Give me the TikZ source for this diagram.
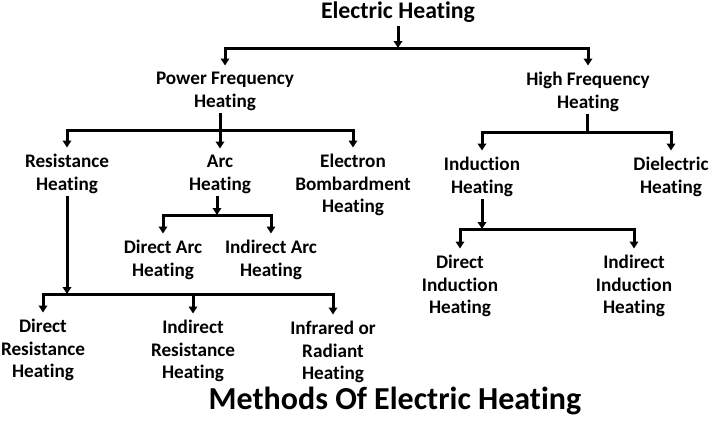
\documentclass[tikz,border=0pt]{standalone}
\usepackage{fontspec}
\setmainfont{Carlito}[Ligatures=NoCommon]
\usetikzlibrary{arrows.meta}
\begin{document}
\begin{tikzpicture}[x=1pt,y=-1pt,
  lbl/.style={anchor=north, align=center, inner sep=2.5pt, font=\fontsize{19.2}{22.5}\selectfont\bfseries},
  arr/.style={line width=3pt, -{Triangle[length=7pt,width=8.5pt]}, shorten >=4pt},
  ln/.style={line width=3pt}]
\useasboundingbox (0,0) rectangle (713,421);
\node[lbl, font=\fontsize{23.8}{27}\selectfont\bfseries] (eh) at (398,-0.5){Electric Heating};
\node[lbl] (pfh) at (225,69.5){Power Frequency\\Heating};
\node[lbl] (hfh) at (588,69.5){High Frequency\\Heating};
\node[lbl] (rh) at (67,151.5){Resistance\\Heating};
\node[lbl] (ah) at (220,152.5){Arc\\Heating};
\node[lbl] (ebh) at (353,151.5){Electron\\Bombardment\\Heating};
\node[lbl] (dah) at (163,237.5){Direct Arc\\Heating};
\node[lbl] (iah) at (271,237.5){Indirect Arc\\Heating};
\node[lbl] (ih) at (482,154.5){Induction\\Heating};
\node[lbl] (dh) at (671,154.5){Dielectric\\Heating};
\node[lbl] (dih) at (460,252.5){Direct\\Induction\\Heating};
\node[lbl] (iih) at (634,252.5){Indirect\\Induction\\Heating};
\node[lbl] (drh) at (43,316.5){Direct\\Resistance\\Heating};
\node[lbl] (irh) at (193,317.5){Indirect\\Resistance\\Heating};
\node[lbl] (rah) at (333,318.5){Infrared or\\Radiant\\Heating};
\node[lbl, font=\fontsize{32}{36}\selectfont\bfseries] (mt) at (395,384){Methods Of Electric Heating};
\coordinate (ehj) at (398,48);
\coordinate (pfhj) at (220,130);
\coordinate (hfhj) at (587,132);
\coordinate (ahj) at (217,215);
\coordinate (rhj) at (67,294);
\coordinate (ihj) at (482,229);
% top level
\draw[arr, shorten >=0pt](eh) -- (ehj);
\draw[arr](ehj) -| (pfh);
\draw[arr](ehj) -| (hfh);
% power frequency
\draw[ln](pfh.south -| pfhj) -- (pfhj);
\draw[arr](pfhj) -| (rh);
\draw[arr](pfhj) -- (pfhj |- ah.north);
\draw[arr](pfhj) -| (ebh);
\draw[arr, shorten >=0pt](ah.south -| ahj) -- (ahj);
\draw[arr](ahj) -| (dah);
\draw[arr](ahj) -| (iah);
\draw[arr, shorten >=0pt](rh) -- (rhj);
\draw[arr](rhj) -| (drh);
\draw[arr](rhj) -| (irh);
\draw[arr](rhj) -| (rah);
% high frequency
\draw[ln](hfh.south -| hfhj) -- (hfhj);
\draw[arr](hfhj) -| (ih);
\draw[arr](hfhj) -| (dh);
\draw[arr, shorten >=0pt](ih) -- (ihj);
\draw[arr](ihj) -| (dih);
\draw[arr](ihj) -| (iih);
\end{tikzpicture}
\end{document}
